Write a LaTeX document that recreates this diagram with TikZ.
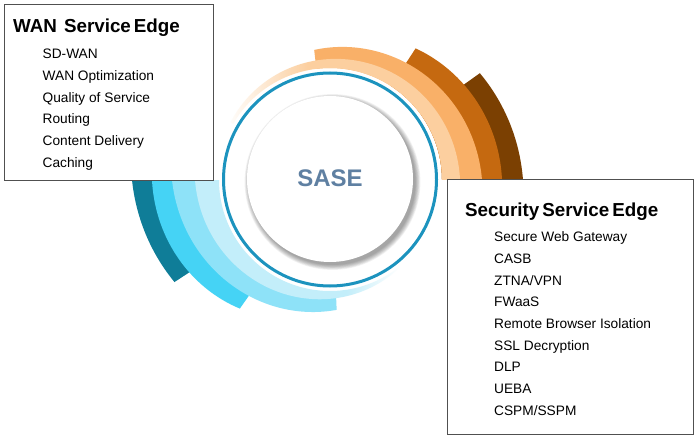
\documentclass[tikz,border=0pt]{standalone}
\usepackage{fontspec}
\setmainfont{Liberation Sans}
\usetikzlibrary{fadings}
\definecolor{ordark}{HTML}{7B4002}
\definecolor{ormed}{HTML}{C56910}
\definecolor{orlight}{HTML}{F9B068}
\definecolor{orpale}{HTML}{FCCF9F}
\definecolor{bldark}{HTML}{0F7D98}
\definecolor{blcyan}{HTML}{45D3F5}
\definecolor{bllight}{HTML}{8EE2F8}
\definecolor{blpale}{HTML}{C3EEFA}
\definecolor{ringblue}{HTML}{1C93BE}
\definecolor{sasecol}{HTML}{5F80A2}
\definecolor{boxline}{HTML}{505050}
\pgfdeclarehorizontalshading{orfadeshade}{100bp}{color(0bp)=(black); color(24bp)=(black); color(42bp)=(white); color(100bp)=(white)}
\pgfdeclarefading{orfade}{\pgfuseshading{orfadeshade}}
\pgfdeclarehorizontalshading{blfadeshade}{100bp}{color(0bp)=(white); color(62bp)=(white); color(75bp)=(black); color(100bp)=(black)}
\pgfdeclarefading{blfade}{\pgfuseshading{blfadeshade}}
% #1 options, #2 start angle, #3 end angle, #4 inner r, #5 outer r at start, #6 outer r at end, #7 quadratic share
\newcommand\ringband[7]{%
  \fill[#1] plot[domain=0:1,samples=80,variable=\t]
    ({330+(#5+(#6-#5)*((1-#7)*\t+#7*\t*\t))*cos(#2+(#3-#2)*\t)},
     {180-(#5+(#6-#5)*((1-#7)*\t+#7*\t*\t))*sin(#2+(#3-#2)*\t)})
    -- plot[domain=1:0,samples=80,variable=\t]
    ({330+#4*cos(#2+(#3-#2)*\t)},{180-#4*sin(#2+(#3-#2)*\t)}) -- cycle;}
\tikzset{
  infobox/.style={draw=boxline, line width=1pt, fill=white, inner sep=0pt, anchor=north west},
  boxtitle/.style={anchor=base west, inner sep=0pt, font=\bfseries\fontsize{18.8}{22}\selectfont},
  boxitem/.style={anchor=base west, inner sep=0pt, font=\fontsize{13.7}{16}\selectfont},
}
\begin{document}
\begin{tikzpicture}[x=1pt,y=-1pt]
\fill[white] (0,0) rectangle (698,438);
\useasboundingbox (0,0) rectangle (698,438);
% orange arcs
\ringband{ordark}{0}{35.5}{112}{193}{184}{0}
\ringband{ormed}{0}{57}{112}{172}{157}{0.5}
\ringband{orlight}{0}{97}{112}{152}{131}{0}
\ringband{orpale, path fading=orfade}{0}{150}{112}{130}{115}{0}
% blue arcs
\ringband{bldark}{180}{213.3}{112}{198}{186}{0}
\ringband{blcyan}{180}{235}{112}{178}{157}{0.6}
\ringband{bllight}{180}{273}{112}{158}{130}{0}
\ringband{blpale, path fading=blfade}{180}{308}{111}{135}{112}{0}
% ring
\draw[ringblue, line width=3pt] (330,179.5) circle (106.5);
% inner disc with shadow
\foreach \i in {0,...,7}{\fill[black,opacity=0.05] (332.5,182) circle ({83+\i*0.7});}
\fill[white] (330,179) circle (83);
\node[font=\bfseries\fontsize{24}{28}\selectfont, text=sasecol, inner sep=0pt] (sase) at (330,178.5) {SASE};
% WAN box
\node[infobox, minimum width=209pt, minimum height=176pt] (wanbox) at (4,4) {};
\node[boxtitle] (wantitle) at (13,32.7) {WAN\hspace{7pt}Service\hspace{3pt}Edge};
\foreach \t [count=\k from 0] in {SD-WAN, WAN Optimization, Quality of Service, Routing, Content Delivery, Caching}{
  \node[boxitem] (wan\k) at (42.5,{58.7+21.7*\k}) {\t};}
% SSE box
\node[infobox, minimum width=246pt, minimum height=255pt] (ssebox) at (447,179) {};
\node[boxtitle] (ssetitle) at (465,217) {Security\hspace{3pt}Service\hspace{3pt}Edge};
\foreach \t [count=\k from 0] in {Secure Web Gateway, CASB, ZTNA/VPN, FWaaS, Remote Browser Isolation, SSL Decryption, DLP, UEBA, CSPM/SSPM}{
  \node[boxitem] (sse\k) at (494,{241.7+21.7*\k}) {\t};}
\end{tikzpicture}
\end{document}
